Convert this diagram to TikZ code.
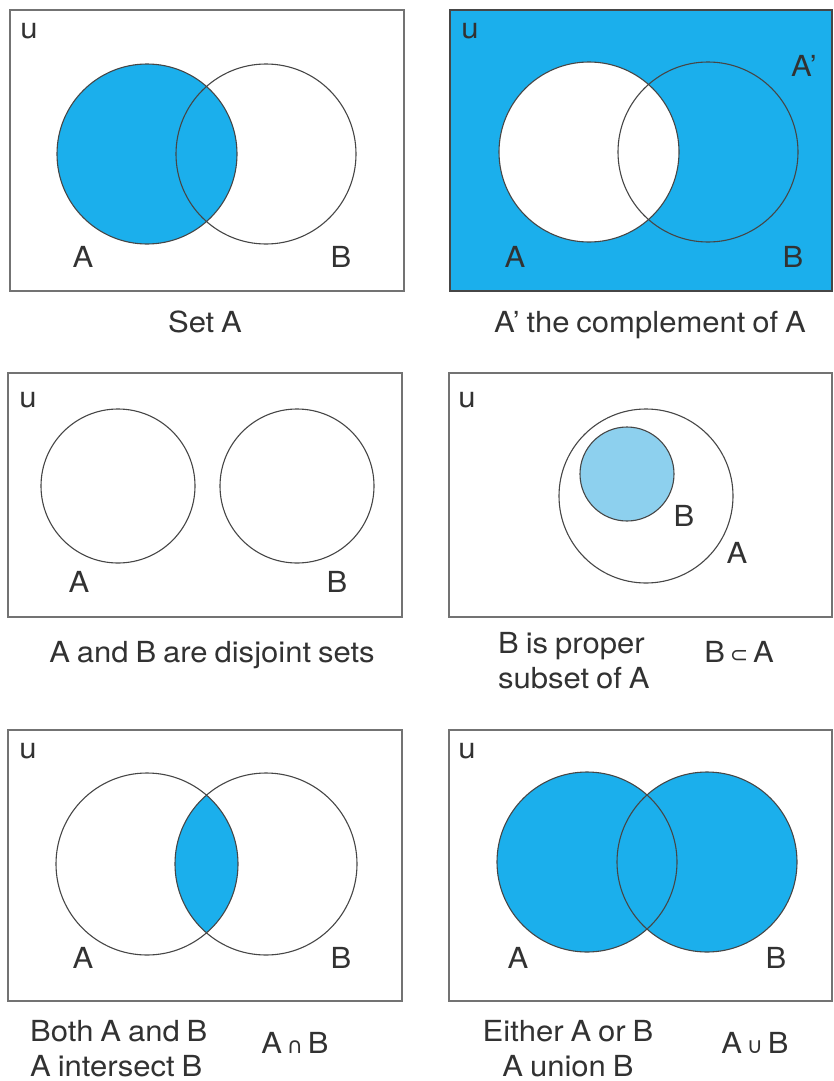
\documentclass[tikz,border=0pt]{standalone}
\usepackage{fontspec}
\setmainfont[FakeStretch=1.07,WordSpace=0.8]{TeX Gyre Heros}
\newfontfamily\symf{DejaVu Sans}
\definecolor{vblue}{RGB}{27,175,236}
\definecolor{vlight}{RGB}{141,208,238}
\definecolor{txt}{RGB}{50,50,50}
\definecolor{frame}{RGB}{115,115,115}
\definecolor{ringc}{RGB}{70,70,70}
\begin{document}
\begin{tikzpicture}[x=1pt,y=-1pt,
  box/.style={draw=frame,line width=1.5pt},
  ring/.style={draw=ringc,line width=1.1pt},
  lbl/.style={text=txt,font=\fontsize{29}{33}\selectfont,inner sep=0pt,anchor=base},
  lblw/.style={lbl,anchor=base west}]
\useasboundingbox (0,0) rectangle (833,1081);
\fill[white] (0,0) rectangle (833,1081);

% ---------- Panel 1: Set A ----------
\draw[box] (10,10) rectangle (404,291);
\fill[vblue] (147,154) circle[radius=90pt];
\draw[ring] (147,154) circle[radius=90pt];
\draw[ring] (266,154) circle[radius=90pt];
\node[lbl] (u1) at (29,38) {u};
\node[lbl] (a1) at (83,267) {A};
\node[lbl] (b1) at (341,267) {B};
\node[lbl] (c1) at (205,332) {Set A};

% ---------- Panel 2: complement ----------
\fill[vblue] (450,10) rectangle (832,291);
\draw[box,draw=ringc] (450,10) rectangle (832,291);
\fill[white] (589,152) circle[radius=90pt];
\draw[ring] (589,152) circle[radius=90pt];
\draw[ring] (708,152) circle[radius=90pt];
\node[lbl] (u2) at (470,38) {u};
\node[lbl] (ap2) at (804,76) {A’};
\node[lbl] (a2) at (515,267) {A};
\node[lbl] (b2) at (793,267) {B};
\node[lbl] (c2) at (650,332) {A’ the complement of A};

% ---------- Panel 3: disjoint ----------
\draw[box] (8,373) rectangle (402,617);
\draw[ring] (118,486) circle[radius=77pt];
\draw[ring] (297,486) circle[radius=77pt];
\node[lbl] (u3) at (28,407) {u};
\node[lbl] (a3) at (79,592) {A};
\node[lbl] (b3) at (337,592) {B};
\node[lbl] (c3) at (212,662) {A and B are disjoint sets};

% ---------- Panel 4: subset ----------
\draw[box] (449,373) rectangle (832,617);
\draw[ring] (646,496) circle[radius=87pt];
\fill[vlight] (627,474) circle[radius=47pt];
\draw[ring] (627,474) circle[radius=47pt];
\node[lbl] (u4) at (467,407) {u};
\node[lbl] (b4) at (684,526) {B};
\node[lbl] (a4) at (737,563) {A};
\node[lblw] (c4a) at (498,653) {B is proper};
\node[lblw] (c4b) at (498,688) {subset of A};
\node[lbl] (s4) at (739,662) {B\,{\symf\fontsize{22}{26}\selectfont ⊂}\,A};

% ---------- Panel 5: intersection ----------
\draw[box] (8,730) rectangle (402,1001);
\begin{scope}
  \clip (147,864) circle[radius=91pt];
  \fill[vblue] (266,864) circle[radius=91pt];
\end{scope}
\draw[ring] (147,864) circle[radius=91pt];
\draw[ring] (266,864) circle[radius=91pt];
\node[lbl] (u5) at (28,758) {u};
\node[lbl] (a5) at (83,968) {A};
\node[lbl] (b5) at (341,968) {B};
\node[lblw] (c5a) at (30,1041) {Both A and B};
\node[lblw] (c5b) at (30,1076) {A intersect B};
\node[lbl] (s5) at (295,1053) {A\,{\symf\fontsize{22}{26}\selectfont ∩}\,B};

% ---------- Panel 6: union ----------
\draw[box] (449,730) rectangle (832,1001);
\fill[vblue] (587,862) circle[radius=90pt];
\fill[vblue] (707,862) circle[radius=90pt];
\draw[ring] (587,862) circle[radius=90pt];
\draw[ring] (707,862) circle[radius=90pt];
\node[lbl] (u6) at (467,758) {u};
\node[lbl] (a6) at (518,968) {A};
\node[lbl] (b6) at (776,968) {B};
\node[lbl] (c6a) at (568,1041) {Either A or B};
\node[lbl] (c6b) at (568,1076) {A union B};
\node[lbl] (s6) at (755,1053) {A\,{\symf\fontsize{22}{26}\selectfont ∪}\,B};
\end{tikzpicture}
\end{document}
